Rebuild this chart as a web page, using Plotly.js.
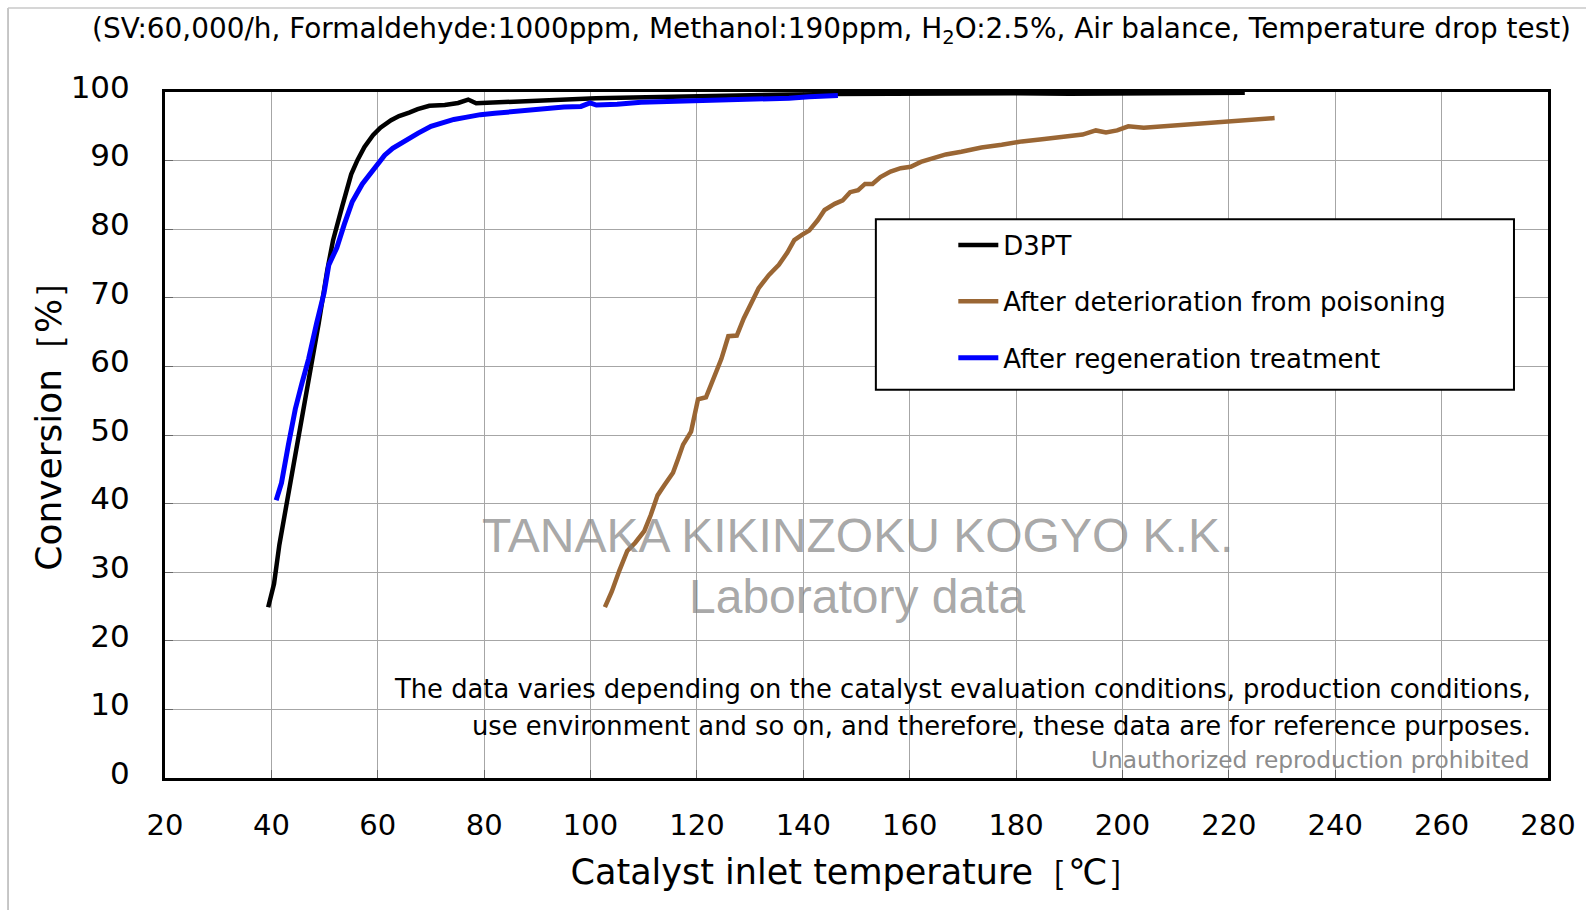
<!DOCTYPE html>
<html>
<head>
<meta charset="utf-8">
<script src="https://cdn.plot.ly/plotly-3.0.1.min.js"></script>
<style>html,body{margin:0;padding:0;background:#fff;}#chart{width:1586px;height:910px;}</style>
</head>
<body>
<div id="chart"></div>
<script>
// Catalyst inlet temperature (°C) and conversion (%)
var d3ptTemp = [39.4,40.5,41.5,42.2,43.5,45.3,47.0,48.9,50.5,51.6,53.3,55.0,56.2,57.5,59.1,60.5,62.5,64.0,65.9,67.5,69.7,72.6,75.1,76.2,77.0,78.5,80.0,82.2,84.3,88.0,92.8,97.0,101.0,108.0,117.9,126.0,134.7,145.0,160.0,180.0,190.0,200.0,210.0,223.0];
var d3ptConv = [24.9,28.3,34.0,37.0,42.5,50.0,58.0,66.3,74.0,78.4,83.3,88.0,90.1,92.0,93.7,94.8,95.9,96.5,97.0,97.5,98.0,98.1,98.4,98.6,98.9,98.35,98.4,98.6,98.7,98.8,98.9,99.0,99.1,99.2,99.4,99.5,99.6,99.7,99.8,99.8,99.75,99.8,99.85,99.9];

var poisonTemp = [102.7,104.0,105.4,106.9,108.4,110.1,111.3,112.6,113.9,115.5,116.4,117.4,118.9,120.2,121.7,123.1,124.6,125.9,127.5,128.8,130.3,131.6,133.5,135.4,137.0,138.3,139.8,141.1,142.7,144.0,145.9,147.4,148.8,150.3,151.6,153.0,154.5,156.4,158.3,160.2,162.1,164.0,166.8,169.7,173.5,177.3,181.1,184.9,188.7,192.5,195.0,196.9,199.0,201.1,204.0,209.6,215.3,219.1,223.9,228.6];
var poisonConv = [24.9,27.2,30.2,33.1,34.3,36.0,38.3,41.2,42.7,44.5,46.4,48.6,50.5,55.2,55.5,58.2,61.1,64.4,64.5,67.0,69.5,71.4,73.3,74.8,76.6,78.4,79.2,79.8,81.3,82.8,83.7,84.2,85.4,85.7,86.6,86.6,87.6,88.4,88.9,89.1,89.8,90.3,90.9,91.3,91.9,92.3,92.8,93.1,93.5,93.8,94.4,94.1,94.4,95.0,94.8,95.1,95.4,95.7,95.9,96.2];

var regenTemp = [40.9,41.9,43.2,44.5,45.7,47.0,48.5,49.9,50.8,52.3,53.7,55.2,57.1,58.6,59.8,61.3,62.8,64.2,65.8,67.6,70.0,72.5,74.3,76.5,79.3,82.0,86.0,89.0,91.1,95.0,98.2,99.9,101.1,105.0,109.5,115.0,122.1,128.0,133.0,137.3,141.1,145.6,146.5];
var regenConv = [40.5,43.0,48.6,53.8,57.4,61.1,66.3,70.7,74.8,77.3,80.7,84.0,86.6,88.2,89.3,90.8,91.8,92.5,93.1,94.0,95.0,95.6,96.0,96.3,96.7,96.9,97.2,97.5,97.6,97.8,97.9,98.4,98.1,98.2,98.5,98.6,98.8,98.9,99.0,99.1,99.3,99.4,99.5];

var seriesNames = ["D3PT", "After deterioration from poisoning", "After regeneration treatment"];
var xTicks = [20,40,60,80,100,120,140,160,180,200,220,240,260,280];
var yTicks = [0,10,20,30,40,50,60,70,80,90,100];

var F = "DejaVu Sans, Verdana, sans-serif";

var traces = [
  {x: d3ptTemp, y: d3ptConv, name: seriesNames[0], type: "scatter", mode: "lines",
   line: {color: "#000000", width: 4.5}, legendgroup: "a"},
  {x: poisonTemp, y: poisonConv, name: seriesNames[1], type: "scatter", mode: "lines",
   line: {color: "#9a6634", width: 4.5}, legendgroup: "b"},
  {x: regenTemp, y: regenConv, name: seriesNames[2], type: "scatter", mode: "lines",
   line: {color: "#0000ff", width: 5}, legendgroup: "c"}
];

var layout = {
  width: 1586, height: 910,
  paper_bgcolor: "#ffffff", plot_bgcolor: "#ffffff",
  margin: {l: 165, r: 38, t: 92, b: 131.5, pad: 0},
  font: {family: F, color: "#000"},
  title: {
    text: "(SV:60,000/h, Formaldehyde:1000ppm, Methanol:190ppm, H<sub>2</sub>O:2.5%, Air balance, Temperature drop test)",
    font: {family: F, size: 27.9, color: "#000"},
    x: 0.5243, xref: "container", xanchor: "center",
    y: 0.969, yref: "container", yanchor: "middle"
  },
  xaxis: {
    range: [20, 280], tickvals: xTicks, ticktext: xTicks.map(String),
    showgrid: true, gridcolor: "#a6a6a6", gridwidth: 1,
    showline: true, linecolor: "#000", linewidth: 3, mirror: true,
    ticks: "inside", ticklen: 8, tickwidth: 1, tickcolor: "#666",
    tickfont: {family: F, size: 29, color: "#000"},
    ticklabelstandoff: 19, zeroline: false, automargin: false,
    title: {text: "Catalyst inlet temperature［℃］", font: {family: F, size: 35, color: "#000"}, standoff: 19}
  },
  yaxis: {
    range: [0, 100], tickvals: yTicks, ticktext: yTicks.map(String),
    showgrid: true, gridcolor: "#a6a6a6", gridwidth: 1,
    showline: true, linecolor: "#000", linewidth: 3, mirror: true,
    ticks: "inside", ticklen: 8, tickwidth: 1, tickcolor: "#666",
    tickfont: {family: F, size: 31, color: "#000"},
    ticklabelstandoff: 26, ticklabelshift: -5, zeroline: false, automargin: false
  },
  showlegend: true,
  legend: {
    x: 0.570, xanchor: "left", y: 0.811, yanchor: "top",
    bgcolor: "rgba(0,0,0,0)", borderwidth: 0,
    font: {family: F, size: 26, color: "#000"},
    tracegroupgap: 19.5, itemwidth: 40, traceorder: "grouped"
  },
  shapes: [
    {type: "rect", xref: "paper", yref: "paper", x0: 0.2075, x1: 0.793, y0: 0.197, y1: 0.401,
     fillcolor: "rgba(255,255,255,0.55)", line: {width: 0}, layer: "between"},
    {type: "rect", xref: "paper", yref: "paper", x0: 0.514, x1: 0.9754, y0: 0.566, y1: 0.8144,
     fillcolor: "#ffffff", line: {color: "#000", width: 2}, layer: "above"},
    {type: "line", xref: "paper", yref: "paper", x0: -0.1135, x1: -0.1135, y0: -0.3, y1: 1.1224,
     line: {color: "#b5b5b5", width: 1.5}},
    {type: "line", xref: "paper", yref: "paper", x0: -0.1135, x1: 1.1, y0: 1.1224, y1: 1.1224,
     line: {color: "#c8c8c8", width: 1.5}}
  ],
  annotations: [
    {text: "Conversion［%］", xref: "paper", yref: "paper", x: -0.0842, y: 0.526,
     xanchor: "center", yanchor: "middle", textangle: -90, showarrow: false,
     font: {family: F, size: 36, color: "#000"}},
    {text: "TANAKA KIKINZOKU KOGYO K.K.", xref: "paper", yref: "paper", x: 0.5009, y: 0.353,
     xanchor: "center", yanchor: "middle", showarrow: false,
     font: {family: "Liberation Sans, Arial, sans-serif", size: 48, color: "rgba(130,130,130,0.7)"}},
    {text: "Laboratory data", xref: "paper", yref: "paper", x: 0.5009, y: 0.265,
     xanchor: "center", yanchor: "middle", showarrow: false,
     font: {family: "Liberation Sans, Arial, sans-serif", size: 48, color: "rgba(130,130,130,0.7)"}},
    {text: "The data varies depending on the catalyst evaluation conditions, production conditions,",
     xref: "paper", yref: "paper", x: 0.9893, y: 0.1295, xanchor: "right", yanchor: "middle", showarrow: false,
     font: {family: F, size: 25.8, color: "#000"}},
    {text: "use environment and so on, and therefore, these data are for reference purposes.",
     xref: "paper", yref: "paper", x: 0.9893, y: 0.0765, xanchor: "right", yanchor: "middle", showarrow: false,
     font: {family: F, size: 25.8, color: "#000"}},
    {text: "Unauthorized reproduction prohibited",
     xref: "paper", yref: "paper", x: 0.9883, y: 0.0264, xanchor: "right", yanchor: "middle", showarrow: false,
     font: {family: F, size: 23.3, color: "#8c8c8c"}}
  ]
};

Plotly.newPlot("chart", traces, layout, {displayModeBar: false, staticPlot: true});
</script>
</body>
</html>
